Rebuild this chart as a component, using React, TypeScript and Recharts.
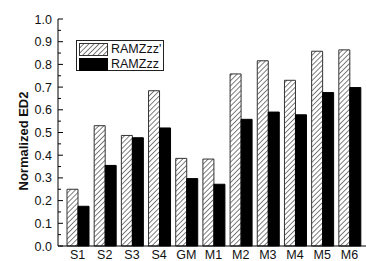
import { BarChart, Bar, XAxis, YAxis, Legend } from "recharts";

const categories = ["S1", "S2", "S3", "S4", "GM", "M1", "M2", "M3", "M4", "M5", "M6"];
const ramzPrime = [0.25, 0.53, 0.487, 0.684, 0.386, 0.383, 0.758, 0.816, 0.73, 0.858, 0.864];
const ramz = [0.175, 0.355, 0.477, 0.52, 0.297, 0.272, 0.558, 0.59, 0.578, 0.676, 0.698];
const yMajorTicks = [0, 0.1, 0.2, 0.3, 0.4, 0.5, 0.6, 0.7, 0.8, 0.9, 1.0];
const yAllTicks = [0, 0.05, 0.1, 0.15, 0.2, 0.25, 0.3, 0.35, 0.4, 0.45, 0.5, 0.55, 0.6, 0.65, 0.7, 0.75, 0.8, 0.85, 0.9, 0.95, 1.0];

const data = categories.map((name, i) => ({
  name,
  idx: i,
  prime: ramzPrime[i],
  plain: ramz[i],
}));

// bottom category axis padding, top numeric axis is matched to it
const PAD_L = 6;
const PAD_R = 3;
const PLOT_W = 308;
const band = (PLOT_W - PAD_L - PAD_R) / categories.length;
const topDomain = [-0.5 - PAD_L / band, categories.length - 0.5 + PAD_R / band];
const topTicks = categories.flatMap((_, i) => [i - 0.5, i]).concat(categories.length - 0.5);

const FONT = "'Liberation Sans', Arial, sans-serif";

function LeftTick(props: any) {
  const { x, y, payload } = props;
  const v = payload.value;
  const major = Math.round(v * 100) % 10 === 0;
  const ax = x + 6;
  return (
    <g>
      <line x1={ax} x2={ax + (major ? 5 : 3)} y1={y} y2={y} stroke="#000" strokeWidth={1} />
      {major && (
        <text x={x} y={y} dy={4.5} textAnchor="end" fontSize={12.5} fill="#111" fontFamily={FONT}>
          {v.toFixed(1)}
        </text>
      )}
    </g>
  );
}

function LegendBox() {
  const rows = [
    { key: "prime", label: "RAMZzz'" },
    { key: "plain", label: "RAMZzz" },
  ];
  return (
    <div
      style={{
        width: 86,
        height: 29,
        border: "1px solid #222",
        background: "#fff",
        fontFamily: FONT,
        fontSize: 12.5,
        color: "#111",
        padding: 0,
      }}
    >
      {rows.map((r, i) => (
        <div key={r.key} style={{ display: "flex", alignItems: "center", height: 15, marginTop: i === 0 ? 1 : 0 }}>
          <svg width={30} height={13} style={{ marginLeft: 2, display: "block" }}>
            <defs>
              <pattern id="legHatch" patternUnits="userSpaceOnUse" width={3.6} height={3.6} patternTransform="rotate(45)">
                <line x1={0} y1={0} x2={0} y2={3.6} stroke="#000" strokeWidth={1} />
              </pattern>
            </defs>
            <rect
              x={0.5}
              y={0.5}
              width={28}
              height={12}
              fill={r.key === "prime" ? "url(#legHatch)" : "#000"}
              stroke={r.key === "prime" ? "#333" : "#000"}
            />
          </svg>
          <span style={{ marginLeft: 2, lineHeight: "15px" }}>{r.label}</span>
        </div>
      ))}
    </div>
  );
}

export default function App() {
  return (
    <div style={{ position: "fixed", left: 0, top: 0, width: 366, height: 261, overflow: "hidden", background: "#fff" }}>
      <BarChart
        width={370}
        height={261}
        data={data}
        margin={{ top: 19, right: 4, bottom: 0, left: 0 }}
        barGap={0}
      >
        <defs>
          <pattern id="hatch" patternUnits="userSpaceOnUse" width={3.6} height={3.6} patternTransform="rotate(45)">
            <rect width={3.6} height={3.6} fill="#fff" />
            <line x1={0} y1={0} x2={0} y2={3.6} stroke="#000" strokeWidth={1} />
          </pattern>
        </defs>
        <XAxis
          xAxisId="bottom"
          dataKey="name"
          height={15}
          tickSize={0}
          tickMargin={4}
          tickLine={false}
          interval={0}
          padding={{ left: PAD_L, right: PAD_R }}
          axisLine={{ stroke: "#000", strokeWidth: 1 }}
          tick={{ fontSize: 12.5, fill: "#111", fontFamily: FONT }}
        />
        <XAxis
          xAxisId="top"
          orientation="top"
          type="number"
          dataKey="idx"
          domain={topDomain}
          allowDataOverflow
          ticks={topTicks}
          interval={0}
          height={0}
          mirror
          tickSize={3}
          tickLine={{ stroke: "#000" }}
          axisLine={{ stroke: "#000", strokeWidth: 1 }}
          tick={() => <g />}
        />
        <YAxis
          yAxisId="left"
          width={58}
          domain={[0, 1]}
          ticks={yAllTicks}
          interval={0}
          tickSize={0}
          tickMargin={6}
          tickLine={false}
          axisLine={{ stroke: "#000", strokeWidth: 1 }}
          tick={<LeftTick />}
          label={{
            content: () => (
              <text
                x={27.5}
                y={141}
                transform="rotate(-90 27.5 141)"
                textAnchor="middle"
                fontSize={13}
                fontWeight="bold"
                fill="#111"
                fontFamily={FONT}
              >
                Normalized ED2
              </text>
            ),
          }}
        />
        <YAxis
          yAxisId="right"
          orientation="right"
          width={0}
          domain={[0, 1]}
          ticks={yMajorTicks}
          interval={0}
          mirror
          tickSize={4}
          tickLine={{ stroke: "#000" }}
          axisLine={{ stroke: "#000", strokeWidth: 1 }}
          tick={() => <g />}
        />
        <Legend
          verticalAlign="middle"
          align="center"
          layout="horizontal"
          wrapperStyle={{ left: 76, top: 40, width: 88 }}
          content={() => <LegendBox />}
        />
        <Bar
          xAxisId="bottom"
          yAxisId="left"
          dataKey="prime"
          name="RAMZzz'"
          barSize={11}
          fill="url(#hatch)"
          stroke="#333"
          strokeWidth={1}
          isAnimationActive={false}
        />
        <Bar
          xAxisId="bottom"
          yAxisId="left"
          dataKey="plain"
          name="RAMZzz"
          barSize={11}
          fill="#000"
          stroke="#000"
          strokeWidth={1}
          isAnimationActive={false}
        />
      </BarChart>
    </div>
  );
}
